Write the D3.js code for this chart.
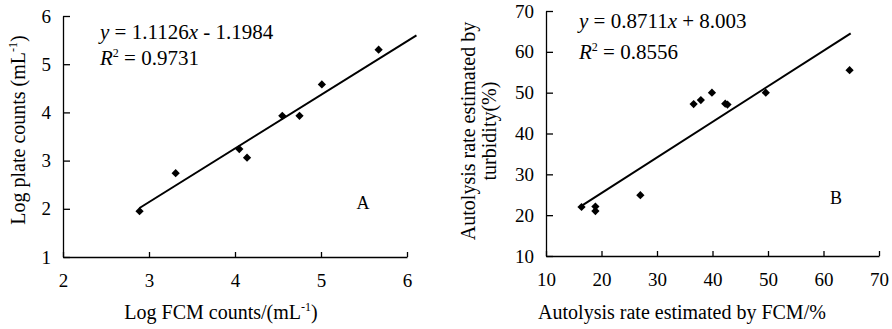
<!DOCTYPE html>
<html>
<script src="https://d3js.org/d3.v7.min.js"></script>
<style>
	body {margin: 0; background: white; }
	svg {display: block; }
	text {font-family: "Liberation Serif", "Times New Roman", serif; fill: #000; }
	.axis path, .axis line {stroke: #000; stroke-width: 1.3; }
	.axis text {font-family: "Liberation Serif", "Times New Roman", serif !important; font-size: 19px; }
</style>
<body>
<svg id="chart" width="892" height="329"></svg>
<script>
// panel A: log FCM counts vs log plate counts
const fcmLogA = [2.89, 3.31, 4.05, 4.14, 4.55, 4.75, 5.01, 5.67];
const plateLogA = [1.95, 2.74, 3.24, 3.06, 3.93, 3.93, 4.58, 5.30];
const ticksAx = [2, 3, 4, 5, 6];
const ticksAy = [1, 2, 3, 4, 5, 6];

// panel B: autolysis rate by FCM vs by turbidity
const fcmRateB = [16.4, 18.9, 18.9, 27.0, 36.6, 37.9, 39.9, 42.3, 42.7, 49.6, 64.7];
const turbRateB = [22.0, 22.1, 21.0, 24.9, 47.2, 48.2, 50.0, 47.3, 47.1, 50.0, 55.5];
const ticksBx = [10, 20, 30, 40, 50, 60, 70];
const ticksBy = [10, 20, 30, 40, 50, 60, 70];

// fitted lines
const trendSlope = [1.1126, 0.8711];
const trendIntercept = [-1.1984, 8.003];
const trendRangeA = [2.89, 6.11];
const trendRangeB = [16.4, 64.9];

const svg = d3.select("#chart");
const serif = "Liberation Serif, Times New Roman, serif";

function panel(opt) {
	const x = d3.scaleLinear().domain(opt.xDomain).range(opt.xRange);
	const y = d3.scaleLinear().domain(opt.yDomain).range(opt.yRange);
	const g = svg.append("g");

	const ax = g.append("g")
		.attr("class", "axis")
		.attr("transform", `translate(0,${opt.yRange[0]})`)
		.call(d3.axisBottom(x).tickValues(opt.xTicks).tickFormat(d3.format("d"))
			.tickSize(-5).tickSizeOuter(0).tickPadding(17));

	const ay = g.append("g")
		.attr("class", "axis")
		.attr("transform", `translate(${opt.xRange[0]},0)`)
		.call(d3.axisLeft(y).tickValues(opt.yTicks).tickFormat(d3.format("d"))
			.tickSize(-7).tickSizeOuter(0).tickPadding(12));

	[ax, ay].forEach(a => {
		a.attr("font-family", serif).attr("font-size", 19);
		a.selectAll("text").style("font-family", serif).style("font-size", "19px");
	});

	// trend line
	const line = d3.line().x(d => x(d)).y(d => y(opt.slope * d + opt.intercept));
	g.append("path")
		.datum(opt.trendRange)
		.attr("fill", "none")
		.attr("stroke", "#000")
		.attr("stroke-width", 2)
		.attr("d", line);

	// diamonds
	const sym = d3.symbol(d3.symbolSquare, 34);
	g.selectAll(".pt")
		.data(opt.xs.map((v, i) => [v, opt.ys[i]]))
		.enter()
		.append("path")
		.attr("class", "pt")
		.attr("transform", d => `translate(${x(d[0])},${y(d[1])}) rotate(45)`)
		.attr("d", sym)
		.attr("fill", "#000");

	// equation
	const eq = g.append("text").attr("x", opt.eqX).attr("y", opt.eqY).attr("font-size", 21);
	eq.append("tspan").attr("font-style", "italic").text("y");
	eq.append("tspan").text(opt.eqMid);
	eq.append("tspan").attr("font-style", "italic").text("x");
	eq.append("tspan").text(opt.eqEnd);

	const r2 = g.append("text").attr("x", opt.eqX).attr("y", opt.eqY + opt.eqGap).attr("font-size", 21);
	r2.append("tspan").attr("font-style", "italic").text("R");
	r2.append("tspan").attr("font-size", 12).attr("dy", -8).text("2");
	r2.append("tspan").attr("dy", 8).text(" = " + opt.r2);

	g.append("text")
		.attr("x", opt.tag[0]).attr("y", opt.tag[1])
		.attr("text-anchor", "middle")
		.attr("font-size", 18)
		.text(opt.tagText);

	return {x, y, g};
}

const A = panel({
	xDomain: [2, 6], xRange: [63, 407],
	yDomain: [1, 6], yRange: [257, 16],
	xTicks: ticksAx, yTicks: ticksAy,
	xs: fcmLogA, ys: plateLogA,
	slope: trendSlope[0], intercept: trendIntercept[0], trendRange: trendRangeA,
	eqX: 100, eqY: 39, eqGap: 26,
	eqMid: " = 1.1126", eqEnd: " - 1.1984", r2: "0.9731",
	tag: [363, 209], tagText: "A"
});

const B = panel({
	xDomain: [10, 70], xRange: [546, 879],
	yDomain: [10, 70], yRange: [256, 11],
	xTicks: ticksBx, yTicks: ticksBy,
	xs: fcmRateB, ys: turbRateB,
	slope: trendSlope[1], intercept: trendIntercept[1], trendRange: trendRangeB,
	eqX: 579, eqY: 28, eqGap: 31,
	eqMid: " = 0.8711", eqEnd: " + 8.003", r2: "0.8556",
	tag: [836, 204], tagText: "B"
});

// axis titles
const tA = svg.append("text").attr("x", 221).attr("y", 319).attr("text-anchor", "middle").attr("font-size", 20);
tA.append("tspan").text("Log FCM counts/(mL");
tA.append("tspan").attr("font-size", 12).attr("dy", -8).text("-1");
tA.append("tspan").attr("dy", 8).text(")");

const yA = svg.append("text").attr("transform", "translate(25,130) rotate(-90)").attr("text-anchor", "middle").attr("font-size", 20);
yA.append("tspan").text("Log plate counts (mL");
yA.append("tspan").attr("font-size", 12).attr("dy", -8).text("-1");
yA.append("tspan").attr("dy", 8).text(")");

svg.append("text").attr("x", 682).attr("y", 319).attr("text-anchor", "middle").attr("font-size", 20)
	.text("Autolysis rate estimated by FCM/%");

const yB = svg.append("text").attr("transform", "translate(475,131) rotate(-90)").attr("text-anchor", "middle").attr("font-size", 20);
yB.append("tspan").attr("x", 0).text("Autolysis rate estimated by");
yB.append("tspan").attr("x", 0).attr("dy", 21).text("turbidity(%)");
</script>
</body>
</html>
